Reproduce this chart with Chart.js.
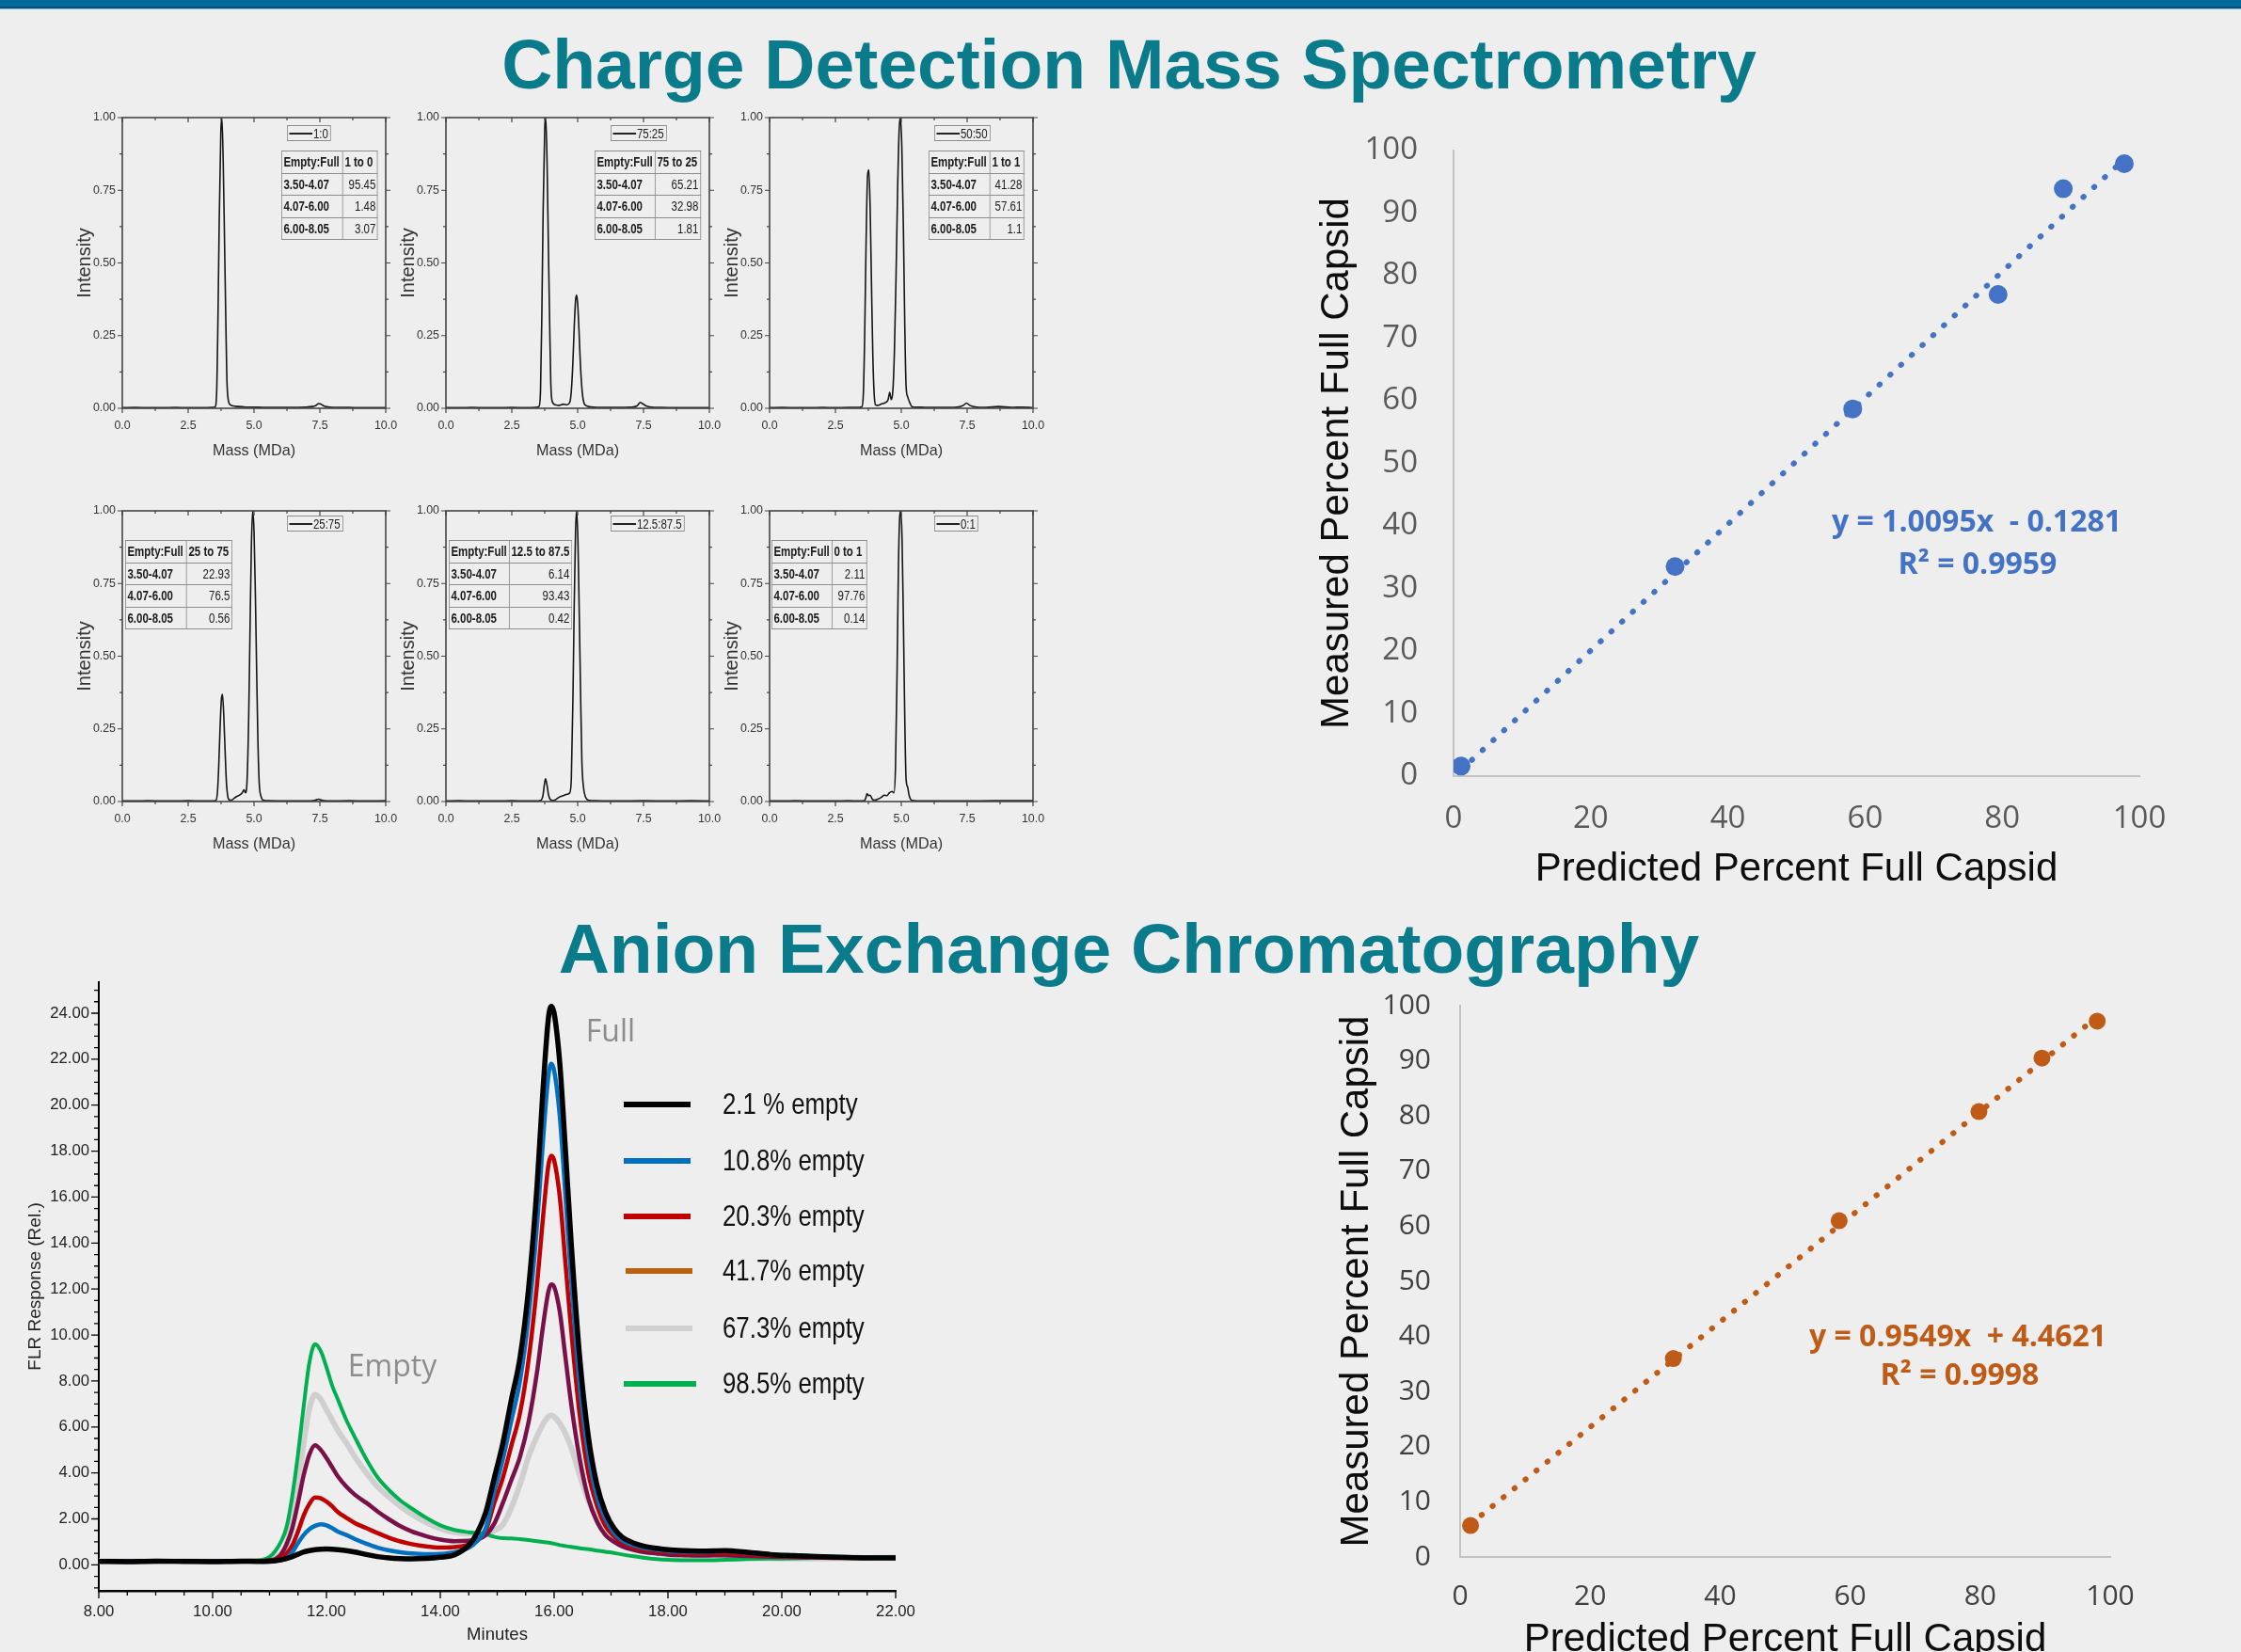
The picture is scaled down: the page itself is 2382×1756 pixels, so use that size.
<!DOCTYPE html>
<html lang="en"><head><meta charset="utf-8"><title>CDMS vs AEX</title>
<script src="https://cdn.jsdelivr.net/npm/chart.js@4.4.1/dist/chart.umd.min.js"></script>
<style>
html,body{margin:0;padding:0;background:#eeeeee;}
#stage{position:relative;width:2382px;height:1756px;overflow:hidden;background:#eeeeee;font-family:'Liberation Sans',Arial,sans-serif;}
#stage canvas{position:absolute;}
.bar{position:absolute;left:0;top:0;width:2382px;height:7px;background:#006a9b;border-bottom:2px solid #00527a;}
.bar2{position:absolute;left:0;top:9px;width:2382px;height:1px;background:#8cbad1;}
.title{position:absolute;left:0;width:2400px;text-align:center;font-weight:bold;font-size:75px;line-height:75px;color:#0a7b8b;white-space:nowrap;}
.ctr{position:absolute;transform:translate(-50%,-50%);white-space:pre;line-height:1;}
.eq{font-family:'Open Sans',sans-serif;font-weight:700;font-size:32px;}
.lbl{font-family:'Open Sans',sans-serif;font-size:32px;color:#8c8c8c;}
.sleg{position:absolute;height:15px;border:1px solid #8c8c8c;display:flex;align-items:center;padding:0 3px 0 2px;color:#222;white-space:nowrap;line-height:1;transform-origin:0 0;}
.sleg i{display:inline-block;height:2px;background:#222;margin-right:1px;}
table.stab{position:absolute;border-collapse:collapse;table-layout:fixed;color:#1a1a1a;transform-origin:0 0;}
table.stab td{border:1px solid #8c8c8c;padding:0 2px;white-space:nowrap;overflow:hidden;line-height:1;}
table.stab td.b{font-weight:bold;}
table.stab td.v{text-align:right;}
.csw{position:absolute;height:6px;}
.ctx{position:absolute;white-space:nowrap;line-height:1;color:#111;transform-origin:0 50%;}
</style></head>
<body><div id="stage">
<div class="bar"></div><div class="bar2"></div>
<div class="title" style="top:31px">Charge Detection Mass Spectrometry</div>
<div class="title" style="top:971px">Anion Exchange Chromatography</div>
</div>
<script>
// ===================== DATA =====================
// CDMS scatter (top right)
const cdmsPredicted = [1.1, 32.3, 58.2, 79.4, 88.9, 97.8];
const cdmsMeasured  = [1.6, 33.5, 58.7, 77.0, 93.9, 97.9];
const cdmsTrendX = [1.1, 97.8];
const cdmsTrendY = [1.0, 98.6];
const cdmsEquation = ['y = 1.0095x  - 0.1281', 'R² = 0.9959'];
// AEX scatter (bottom right)
const aexPredicted = [1.6, 32.8, 58.3, 79.8, 89.5, 98.0];
const aexMeasured  = [5.7, 36.0, 61.0, 80.8, 90.5, 97.2];
const aexTrendX = [1.6, 98.0];
const aexTrendY = [6.0, 98.0];
const aexEquation = ['y = 0.9549x  + 4.4621', 'R² = 0.9998'];
const pctTicksX = [0, 20, 40, 60, 80, 100];
const pctTicksY = [0, 10, 20, 30, 40, 50, 60, 70, 80, 90, 100];
const axisTitleX = 'Predicted Percent Full Capsid';
const axisTitleY = 'Measured Percent Full Capsid';

// Chromatogram (bottom left)
const minutes = [8.0,8.5,9.0,9.5,10.0,10.5,10.8,11.0,11.1,11.2, 11.3,11.4,11.5,11.6,11.7,11.8,11.9,12.0,12.1,12.2, 12.35,12.5,12.7,12.9,13.1,13.3,13.5,13.75,14.0,14.25, 14.5,14.65,14.8,14.95,15.1,15.25,15.4,15.55,15.7,15.8, 15.9,15.95,16.0,16.1,16.2,16.3,16.45,16.6,16.75,16.9, 17.05,17.2,17.4,17.6,17.8,18.0,18.3,18.6,19.0,19.4, 19.8,20.2,20.6,21.0,21.5,22.0];
const flr2_1  = [0.15,0.14,0.16,0.15,0.14,0.16,0.15,0.16,0.18,0.22, 0.28,0.36,0.46,0.56,0.62,0.66,0.68,0.69,0.68,0.66, 0.62,0.56,0.45,0.36,0.30,0.27,0.26,0.28,0.33,0.44, 0.85,1.4,2.3,3.8,5.3,7.2,9.0,12.0,16.5,20.5, 23.8,24.3,24.0,21.8,18.0,14.0,9.0,5.6,3.5,2.3, 1.6,1.2,0.95,0.8,0.72,0.66,0.62,0.6,0.62,0.55, 0.45,0.4,0.36,0.33,0.3,0.3];
const flr10_8 = [0.16,0.15,0.17,0.16,0.15,0.15,0.16,0.17,0.18,0.22, 0.30,0.55,0.95,1.30,1.55,1.70,1.77,1.72,1.60,1.45, 1.30,1.12,0.92,0.75,0.63,0.55,0.50,0.47,0.48,0.55, 0.75,1.05,1.6,3.2,4.6,6.3,8.0,10.8,14.8,18.3, 21.3,21.8,21.5,19.5,16.0,12.4,7.8,4.8,3.0,2.0, 1.4,1.05,0.85,0.72,0.66,0.6,0.57,0.55,0.6,0.52, 0.45,0.4,0.36,0.34,0.33,0.33];
const flr20_3 = [0.15,0.16,0.15,0.17,0.15,0.15,0.16,0.18,0.20,0.32, 0.50,0.85,1.45,2.15,2.65,2.93,2.90,2.75,2.55,2.30, 2.05,1.82,1.60,1.38,1.18,1.02,0.90,0.80,0.75,0.77, 0.88,1.05,1.5,2.7,3.8,5.2,6.6,8.9,12.2,15.0, 17.4,17.8,17.6,16.0,13.1,10.2,6.5,4.0,2.6,1.7, 1.25,0.95,0.75,0.65,0.6,0.55,0.52,0.5,0.52,0.46, 0.4,0.37,0.34,0.32,0.31,0.31];
const flr41_7 = [0.15,0.14,0.16,0.15,0.16,0.15,0.16,0.20,0.25,0.45, 0.90,1.60,2.70,3.90,4.80,5.20,5.00,4.65,4.25,3.85, 3.40,3.05,2.70,2.32,1.98,1.68,1.45,1.25,1.10,1.03, 1.05,1.1,1.3,1.8,2.7,3.7,4.7,6.2,8.4,10.3, 11.9,12.2,12.1,11.0,9.0,7.0,4.6,2.9,1.9,1.3, 1.0,0.8,0.65,0.55,0.5,0.45,0.42,0.4,0.42,0.38, 0.35,0.33,0.32,0.3,0.3,0.3];
const flr67_3 = [0.16,0.15,0.16,0.17,0.15,0.15,0.17,0.22,0.30,0.50, 0.90,2.00,3.40,5.30,6.80,7.40,7.20,6.75,6.30,5.85, 5.30,4.70,4.00,3.40,2.95,2.55,2.20,1.85,1.57,1.42, 1.37,1.38,1.42,1.5,1.75,2.5,3.5,4.7,5.6,6.1, 6.45,6.5,6.45,6.15,5.7,5.1,3.9,2.8,2.0,1.45, 1.12,0.95,0.78,0.62,0.5,0.42,0.35,0.32,0.33,0.3, 0.28,0.27,0.27,0.28,0.3,0.32];
const flr98_5 = [0.17,0.16,0.18,0.17,0.16,0.18,0.20,0.35,0.60,1.00, 1.65,3.00,4.80,6.90,8.80,9.60,9.30,8.60,7.80,7.20, 6.30,5.55,4.60,3.80,3.25,2.80,2.45,2.05,1.72,1.52, 1.42,1.38,1.33,1.22,1.16,1.15,1.12,1.08,1.03,1.0, 0.97,0.95,0.92,0.86,0.82,0.78,0.72,0.68,0.62,0.57, 0.52,0.45,0.37,0.3,0.25,0.22,0.2,0.2,0.22,0.25, 0.27,0.28,0.3,0.3,0.32,0.34];
const chromLabels = ['2.1 % empty', '10.8% empty', '20.3% empty', '41.7% empty', '67.3% empty', '98.5% empty'];
const chromXTicks = [8, 10, 12, 14, 16, 18, 20, 22];
const chromYTicks = [0, 2, 4, 6, 8, 10, 12, 14, 16, 18, 20, 22, 24];
const peakLabels = ['Full', 'Empty'];

// CDMS mass spectra (top left, 6 panels)
const massTicks = [0, 2.5, 5, 7.5, 10];
const intensityTicks = [0, 0.25, 0.5, 0.75, 1];
const spec1Mass = [0,0.5,1.0,1.5,2.0,2.5,3.0,3.4, 3.52,3.58,3.63,3.68,3.74,3.78,3.83,3.88,3.93,3.97, 4.02,4.1,4.3,4.6,5.0,5.5,6.0,6.5,6.9,7.2, 7.35,7.45,7.55,7.65,7.8,8.2,8.6,9.0,9.5,10.0];
const spec1Int  = [0.002,0.003,0.002,0.002,0.003,0.002,0.002,0.003, 0.005,0.05,0.3,0.65,0.95,1.0,0.85,0.58,0.3,0.1, 0.03,0.012,0.007,0.005,0.004,0.003,0.003,0.003,0.004,0.006, 0.01,0.016,0.014,0.008,0.005,0.003,0.003,0.002,0.002,0.002];
const spec2Mass = [0,0.5,1.0,1.5,2.0,2.5,3.0,3.4, 3.53,3.59,3.64,3.69,3.75,3.79,3.84,3.89,3.94,3.98, 4.03,4.15,4.3,4.45,4.6,4.7,4.76,4.82,4.87,4.92, 4.96,5.0,5.05,5.1,5.16,5.22,5.3,5.5,6.0,6.5, 7.0,7.25,7.38,7.48,7.6,7.8,8.2,8.8,9.4,10.0];
const spec2Int  = [0.002,0.002,0.003,0.002,0.002,0.003,0.002,0.003, 0.006,0.06,0.32,0.68,0.96,1.0,0.84,0.55,0.28,0.09, 0.025,0.012,0.01,0.014,0.012,0.02,0.06,0.16,0.28,0.37, 0.39,0.36,0.27,0.16,0.07,0.025,0.01,0.005,0.003,0.003, 0.004,0.008,0.02,0.015,0.008,0.004,0.003,0.002,0.002,0.002];
const spec3Mass = [0,0.5,1.0,1.5,2.0,2.5,3.0,3.4, 3.5,3.56,3.61,3.66,3.72,3.77,3.82,3.87,3.92,3.97, 4.02,4.1,4.25,4.4,4.5,4.56,4.62,4.68,4.74,4.8, 4.86,4.92,4.97,5.02,5.08,5.13,5.18,5.24,5.32,5.4, 5.6,6.0,6.6,7.1,7.35,7.48,7.6,7.8,8.2,8.7,9.2,9.6,10.0];
const spec3Int  = [0.002,0.003,0.002,0.002,0.003,0.002,0.003,0.003, 0.005,0.05,0.25,0.55,0.80,0.82,0.68,0.42,0.18,0.05, 0.012,0.01,0.015,0.02,0.03,0.055,0.03,0.06,0.2,0.45, 0.75,0.96,1.0,0.9,0.62,0.3,0.08,0.04,0.02,0.006, 0.004,0.003,0.003,0.004,0.01,0.018,0.01,0.005,0.003,0.006,0.003,0.004,0.002];
const spec4Mass = [0,0.5,1.0,1.5,2.0,2.5,3.0,3.4, 3.55,3.61,3.66,3.71,3.76,3.8,3.85,3.9,3.95,4.0, 4.06,4.15,4.25,4.35,4.45,4.55,4.62,4.68,4.74,4.8, 4.85,4.9,4.95,5.0,5.05,5.1,5.15,5.2,5.26,5.35, 5.6,6.2,7.0,7.3,7.45,7.6,8.0,8.6,9.2,10.0];
const spec4Int  = [0.002,0.002,0.003,0.002,0.002,0.003,0.002,0.002, 0.004,0.03,0.12,0.25,0.35,0.369,0.3,0.18,0.07,0.02, 0.006,0.005,0.012,0.018,0.022,0.03,0.04,0.03,0.08,0.3, 0.6,0.88,1.0,0.93,0.72,0.45,0.2,0.06,0.02,0.005, 0.003,0.002,0.002,0.004,0.008,0.004,0.002,0.003,0.002,0.003];
const spec5Mass = [0,0.5,1.0,1.5,2.0,2.5,3.0,3.4, 3.6,3.68,3.74,3.78,3.83,3.89,3.95,4.05,4.15,4.3, 4.45,4.6,4.7,4.76,4.82,4.87,4.92,4.96,5.01,5.06, 5.11,5.16,5.22,5.3,5.4,5.7,6.5,7.5,8.5,9.3, 10.0];
const spec5Int  = [0.002,0.003,0.002,0.002,0.002,0.003,0.002,0.002, 0.004,0.02,0.06,0.078,0.06,0.025,0.008,0.004,0.006,0.015, 0.02,0.025,0.03,0.08,0.35,0.68,0.93,1.0,0.9,0.65, 0.38,0.14,0.05,0.015,0.005,0.003,0.002,0.003,0.002,0.003, 0.002];
const spec6Mass = [0,0.5,1.0,1.5,2.0,2.5,3.0,3.4, 3.6,3.66,3.7,3.76,3.82,3.9,3.98,4.1,4.25,4.35, 4.45,4.55,4.65,4.72,4.78,4.84,4.89,4.94,4.98,5.03, 5.08,5.13,5.18,5.24,5.3,5.4,5.8,6.6,7.5,8.5, 9.3,10.0];
const spec6Int  = [0.002,0.002,0.003,0.002,0.002,0.002,0.003,0.002, 0.003,0.015,0.027,0.02,0.022,0.008,0.005,0.008,0.015,0.022, 0.02,0.03,0.035,0.03,0.12,0.45,0.8,0.98,1.0,0.9, 0.62,0.3,0.08,0.05,0.02,0.004,0.002,0.002,0.002,0.003, 0.003,0.003];
const specRatioLabels = ['1:0', '75:25', '50:50', '25:75', '12.5:87.5', '0:1'];
const specTableHead = ['1 to 0', '75 to 25', '1 to 1', '25 to 75', '12.5 to 87.5', '0 to 1'];
const massBins = ['3.50-4.07', '4.07-6.00', '6.00-8.05'];
const binPercent = [['95.45','1.48','3.07'], ['65.21','32.98','1.81'], ['41.28','57.61','1.1'], ['22.93','76.5','0.56'], ['6.14','93.43','0.42'], ['2.11','97.76','0.14']];

// ===================== STYLE / LAYOUT =====================
function fontAvailable(name) {
  const c = document.createElement('canvas').getContext('2d');
  const s = 'mmmmmmmmmmlliWWW 0123456789';
  c.font = '40px monospace'; const a = c.measureText(s).width;
  c.font = '40px "' + name + '", monospace'; const b = c.measureText(s).width;
  return Math.abs(a - b) > 0.5;
}
const HAS_NARROW = fontAvailable('Liberation Sans Narrow');
const NARROW = HAS_NARROW ? "'Liberation Sans Narrow', 'Liberation Sans', Arial, sans-serif" : "'Liberation Sans', Arial, sans-serif";
const nsz = s => HAS_NARROW ? s : Math.round(s * 0.9 * 10) / 10;   // canvas text
const KX = HAS_NARROW ? 1 : 0.82;                                     // horizontal squeeze for html text
const ARIAL = "'Liberation Sans', Arial, sans-serif";
const OPEN = "'Open Sans', sans-serif";

Chart.defaults.font.family = ARIAL;
const stage = document.getElementById('stage');

function addCanvas(left, top, w, h) {
  const c = document.createElement('canvas');
  c.width = w; c.height = h;
  c.style.left = left + 'px'; c.style.top = top + 'px';
  c.style.width = w + 'px'; c.style.height = h + 'px';
  stage.appendChild(c);
  return c;
}
function fixBox(s, prop, val) {
  s[prop] = val;
  s.paddingTop = 0; s.paddingBottom = 0; s.paddingLeft = 0; s.paddingRight = 0;
}
function makeFramedChart(rect, m, cfg) {
  const left = rect.x0 - m.L, top = rect.y0 - m.T;
  const w = rect.x1 - rect.x0 + m.L + m.R;
  const h = rect.y1 - rect.y0 + m.T + m.B;
  const cv = addCanvas(left, top, w, h);
  const o = cfg.options;
  o.responsive = false; o.maintainAspectRatio = false; o.animation = false; o.events = []; o.devicePixelRatio = 1;
  o.layout = {padding: {left: 0, top: m.T, right: m.R, bottom: 0}};
  o.scales.x.afterFit = s => fixBox(s, 'height', m.B);
  o.scales.y.afterFit = s => fixBox(s, 'width', m.L);
  o.plugins = Object.assign({legend: {display: false}, tooltip: {enabled: false}}, o.plugins || {});
  return new Chart(cv, cfg);
}
function el(tag, cls, css, text) {
  const d = document.createElement(tag);
  if (cls) d.className = cls;
  if (css) d.style.cssText = css;
  if (text !== undefined) d.textContent = text;
  stage.appendChild(d);
  return d;
}

// frame + tick marks plugin drawn with the chart's own scales
const boxTicks = {
  id: 'boxTicks',
  afterDatasetsDraw(chart, args, o) {
    const {ctx, chartArea: a, scales: {x, y}} = chart;
    ctx.save();
    ctx.strokeStyle = o.color; ctx.lineCap = 'butt';
    if (o.frame) { ctx.lineWidth = o.frameWidth; ctx.strokeRect(a.left, a.top, a.right - a.left, a.bottom - a.top); }
    ctx.lineWidth = o.tickWidth;
    ctx.beginPath();
    const each = (scale, step, major, fn) => {
      const start = Math.ceil(scale.min / step - 1e-9) * step;
      const n = Math.floor((scale.max - start) / step + 1e-9);
      for (let k = 0; k <= n; k++) {
        const v = start + k * step;
        const isMajor = Math.abs(v / major - Math.round(v / major)) < 1e-6;
        fn(scale.getPixelForValue(v), isMajor ? o.majorLen : o.minorLen);
      }
    };
    each(x, o.xStep, o.xMajor, (p, L) => {
      if (o.bottom) { ctx.moveTo(p, a.bottom); ctx.lineTo(p, a.bottom + o.bottom * L); }
      if (o.top) { ctx.moveTo(p, a.top); ctx.lineTo(p, a.top - o.top * L); }
    });
    each(y, o.yStep, o.yMajor, (p, L) => {
      if (o.left) { ctx.moveTo(a.left, p); ctx.lineTo(a.left - o.left * L, p); }
      if (o.right) { ctx.moveTo(a.right, p); ctx.lineTo(a.right + o.right * L, p); }
    });
    ctx.stroke(); ctx.restore();
  }
};

// ===================== MASS SPECTRA =====================
const specMass = [spec1Mass, spec2Mass, spec3Mass, spec4Mass, spec5Mass, spec6Mass];
const specInt = [spec1Int, spec2Int, spec3Int, spec4Int, spec5Int, spec6Int];
const specCols = [130, 474, 818], specRows = [125, 543], specW = 280, specH = 309;
const specM = {L: 70, T: 12, R: 22, B: 62};
const specTableBox = [{dx:169,dy:35,c1:65,c2:37},{dx:158,dy:35,c1:64,c2:48},{dx:169,dy:35,c1:65,c2:36},
                      {dx:3,dy:31,c1:65,c2:48},{dx:3,dy:31,c1:64,c2:66},{dx:2,dy:31,c1:64,c2:37}];
const tickSz = nsz(13.8), massSz = nsz(18), tabSz = 14;

for (let i = 0; i < 6; i++) {
  const col = i % 3, row = Math.floor(i / 3);
  const x0 = specCols[col], y0 = specRows[row];
  const rect = {x0, y0, x1: x0 + specW, y1: y0 + specH};
  makeFramedChart(rect, specM, {
    type: 'line',
    data: {datasets: [{
      data: specMass[i].map((m, k) => ({x: m, y: specInt[i][k]})),
      borderColor: '#161616', borderWidth: 1.6, pointRadius: 0, cubicInterpolationMode: 'monotone', fill: false
    }]},
    options: {
      plugins: {boxTicks: {color: '#444', frame: true, frameWidth: 1.6, tickWidth: 1.2, majorLen: 5, minorLen: 3,
                xStep: 1.25, xMajor: 2.5, yStep: 0.125, yMajor: 0.25, bottom: 1, top: -1, left: 1, right: 1}},
      scales: {
        x: {type: 'linear', min: 0, max: 10,
            afterBuildTicks: s => { s.ticks = massTicks.map(v => ({value: v})); },
            ticks: {callback: v => Number(v).toFixed(1), font: {family: NARROW, size: tickSz}, color: '#333', padding: 19 - 0.6 * tickSz, maxRotation: 0, autoSkip: false},
            grid: {display: false, drawTicks: false}, border: {display: false},
            title: {display: true, text: 'Mass (MDa)', color: '#333', font: {family: NARROW, size: massSz}, padding: {top: 0, bottom: 16 - 0.6 * massSz}}},
        y: {type: 'linear', min: 0, max: 1,
            afterBuildTicks: s => { s.ticks = intensityTicks.map(v => ({value: v})); },
            ticks: {callback: v => Number(v).toFixed(2), font: {family: NARROW, size: tickSz}, color: '#333', padding: 7, autoSkip: false},
            grid: {display: false, drawTicks: false}, border: {display: false},
            title: {display: true, text: 'Intensity', color: '#333', font: {family: ARIAL, size: 20}, padding: {top: 18, bottom: 0}}}
      }
    },
    plugins: [boxTicks]
  });
  // legend box
  const lg = el('div', 'sleg', `left:${x0 + 175}px;top:${y0 + (row ? 5 : 8)}px;font-family:${NARROW};font-size:${tabSz}px;transform:scaleX(${KX});`);
  lg.innerHTML = `<i style="width:${Math.round(25 / KX)}px"></i>`;
  lg.appendChild(document.createTextNode(specRatioLabels[i]));
  // bin table
  const tb = specTableBox[i];
  const c1 = tb.c1 / KX, c2 = tb.c2 / KX;
  const t = el('table', 'stab', `left:${x0 + tb.dx}px;top:${y0 + tb.dy}px;width:${c1 + c2}px;font-family:${NARROW};font-size:${tabSz}px;transform:scaleX(${KX});`);
  const cg = document.createElement('colgroup');
  cg.innerHTML = `<col style="width:${c1}px"><col style="width:${c2}px">`;
  t.appendChild(cg);
  const rows = [['Empty:Full', specTableHead[i], true]].concat(massBins.map((b, k) => [b, binPercent[i][k], false]));
  rows.forEach(r => {
    const tr = document.createElement('tr'); tr.style.height = '23.5px';
    const a = document.createElement('td'); a.className = 'b'; a.textContent = r[0];
    const b = document.createElement('td'); b.className = r[2] ? 'b' : 'v'; b.textContent = r[1];
    tr.appendChild(a); tr.appendChild(b); t.appendChild(tr);
  });
}

// ===================== SCATTER PLOTS =====================
function scatterChart(rect, m, px, py, tx, ty, color, radius, dash, tickColor, tickSize, pads) {
  return makeFramedChart(rect, m, {
    type: 'scatter',
    data: {datasets: [
      {data: px.map((v, k) => ({x: v, y: py[k]})), backgroundColor: color, borderWidth: 0, pointRadius: radius},
      {type: 'line', data: tx.map((v, k) => ({x: v, y: ty[k]})), borderColor: color, borderWidth: 6, borderDash: dash,
       borderCapStyle: 'round', pointRadius: 0, showLine: true, fill: false}
    ]},
    options: {
      scales: {
        x: {type: 'linear', min: 0, max: 100,
            afterBuildTicks: s => { s.ticks = pctTicksX.map(v => ({value: v})); },
            ticks: {font: {family: OPEN, size: tickSize}, color: tickColor, padding: pads.xl, maxRotation: 0, autoSkip: false},
            grid: {display: false, drawTicks: false}, border: {display: true, color: '#c3c3c3', width: 2},
            title: {display: true, text: axisTitleX, color: '#0d0d0d', font: {family: ARIAL, size: 42}, padding: {top: 0, bottom: pads.xt}}},
        y: {type: 'linear', min: 0, max: 100,
            afterBuildTicks: s => { s.ticks = pctTicksY.map(v => ({value: v})); },
            ticks: {font: {family: OPEN, size: tickSize}, color: tickColor, padding: pads.yl, autoSkip: false},
            grid: {display: false, drawTicks: false}, border: {display: true, color: '#c3c3c3', width: 2},
            title: {display: true, text: axisTitleY, color: '#0d0d0d', font: {family: ARIAL, size: 42}, padding: {top: pads.yt, bottom: 0}}}
      }
    }
  });
}
scatterChart({x0: 1545, y0: 160, x1: 2274, y1: 825}, {L: 165, T: 30, R: 56, B: 125},
  cdmsPredicted, cdmsMeasured, cdmsTrendX, cdmsTrendY, '#4472C4', 10, [0.5, 15], '#595959', 33,
  {xl: 26, xt: 0, yl: 38, yt: 15.8});
scatterChart({x0: 1552, y0: 1069, x1: 2243, y1: 1655}, {L: 172, T: 29, R: 57, B: 135},
  aexPredicted, aexMeasured, aexTrendX, aexTrendY, '#BF5B17', 9, [0.5, 14.5], '#404040', 30,
  {xl: 24, xt: 21, yl: 31, yt: 36.8});
el('div', 'ctr eq', 'left:2101px;top:553px;color:#4472C4;', cdmsEquation[0]);
el('div', 'ctr eq', 'left:2102px;top:598px;color:#4472C4;', cdmsEquation[1]);
el('div', 'ctr eq', 'left:2081px;top:1419px;color:#BF5B17;', aexEquation[0]);
el('div', 'ctr eq', 'left:2083px;top:1460px;color:#BF5B17;', aexEquation[1]);

// ===================== CHROMATOGRAM =====================
const chromSeries = [flr2_1, flr10_8, flr20_3, flr41_7, flr67_3, flr98_5];
const chromLine = ['#000000', '#0070C0', '#C00000', '#7A1048', '#CFCFCF', '#00B050'];
const chromSwatch = ['#000000', '#0070C0', '#C00000', '#B8620F', '#D0D0D0', '#00B050'];
const chromWidth = [5.5, 4.5, 4.5, 4.5, 6, 4];
const chromOrder = [0, 1, 2, 3, 5, 4];
const chTick = nsz(18.5), chTitle = nsz(20.5);
makeFramedChart({x0: 105, y0: 1044, x1: 952, y1: 1691}, {L: 105, T: 20, R: 30, B: 65}, {
  type: 'line',
  data: {datasets: chromSeries.map((ys, i) => ({
    label: chromLabels[i],
    data: minutes.map((t, k) => ({x: t, y: ys[k]})),
    borderColor: chromLine[i], borderWidth: chromWidth[i], pointRadius: 0,
    cubicInterpolationMode: 'monotone', order: chromOrder[i], fill: false
  }))},
  options: {
    plugins: {boxTicks: {color: '#000', frame: false, tickWidth: 1.3, majorLen: 8, minorLen: 5,
              xStep: 0.5, xMajor: 2, yStep: 0.5, yMajor: 2, bottom: 1, top: 0, left: 1, right: 0}},
    scales: {
      x: {type: 'linear', min: 8, max: 22,
          afterBuildTicks: s => { s.ticks = chromXTicks.map(v => ({value: v})); },
          ticks: {callback: v => Number(v).toFixed(2), font: {family: NARROW, size: chTick}, color: '#222', padding: 22 - 0.6 * chTick, maxRotation: 0, autoSkip: false},
          grid: {display: false, drawTicks: false}, border: {display: true, color: '#000', width: 2.5},
          title: {display: true, text: 'Minutes', color: '#222', font: {family: NARROW, size: chTitle}, padding: {top: 0, bottom: 18 - 0.6 * chTitle}}},
      y: {type: 'linear', min: -1.13, max: 25.35,
          afterBuildTicks: s => { s.ticks = chromYTicks.map(v => ({value: v})); },
          ticks: {callback: v => Number(v).toFixed(2), font: {family: NARROW, size: chTick}, color: '#222', padding: 10, autoSkip: false},
          grid: {display: false, drawTicks: false}, border: {display: true, color: '#000', width: 2},
          title: {display: true, text: 'FLR Response (Rel.)', color: '#222', font: {family: ARIAL, size: 19}, padding: {top: 26.6, bottom: 0}}}
    }
  },
  plugins: [boxTicks]
});
const legRows = [1174, 1234, 1293, 1351, 1412, 1471];
const legSz = 31.5;
chromLabels.forEach((lab, i) => {
  el('div', 'csw', `left:${i === 3 || i === 4 ? 665 : 663}px;top:${legRows[i] - 3}px;width:${i === 5 ? 77 : 71}px;background:${chromSwatch[i]};`);
  el('div', 'ctx', `left:768px;top:${legRows[i]}px;font-family:${NARROW};font-size:${legSz}px;transform:translateY(-50%) scaleX(${KX});`, lab);
});
el('div', 'ctr lbl', 'left:649px;top:1095px;', peakLabels[0]);
el('div', 'ctr lbl', 'left:417px;top:1451px;', peakLabels[1]);
</script>
</body></html>
